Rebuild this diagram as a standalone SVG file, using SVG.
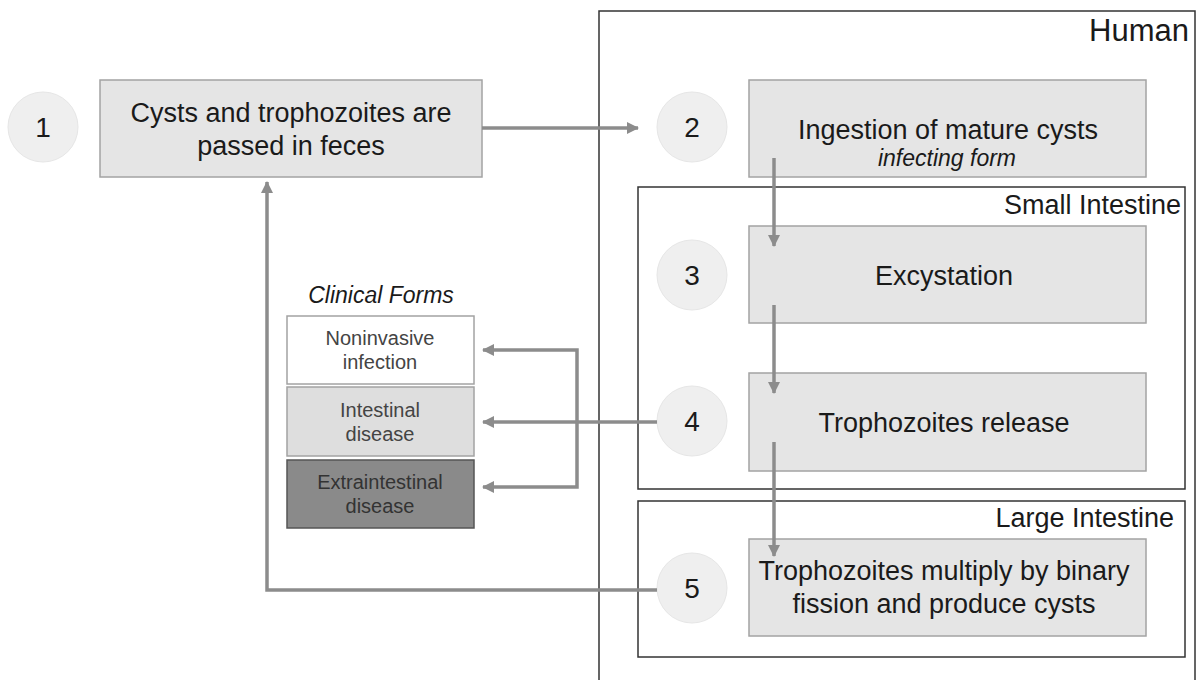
<svg xmlns="http://www.w3.org/2000/svg" width="1197" height="680" viewBox="0 0 1197 680">
<defs>
<marker id="ah" markerUnits="userSpaceOnUse" markerWidth="12" markerHeight="12" viewBox="0 0 12 12" refX="11" refY="6" orient="auto">
<path d="M0,0 L12,6 L0,12 Z" fill="#8c8c8c"/>
</marker>
</defs>
<style>
.t{font-family:"Liberation Sans",Arial,sans-serif;fill:#1a1a1a;text-anchor:middle}
.node{fill:#e5e5e5;stroke:#a3a3a3;stroke-width:1.5}
.circ{fill:#efefef;stroke:#e6e6e6;stroke-width:1}
.num{font-size:28px}
.lbl{font-size:27px}
.reg{fill:none;stroke:#333;stroke-width:1.5}
.cf{font-size:20px;fill:#444}
.con{fill:none;stroke:#8c8c8c;stroke-width:3.5}
.arr{marker-end:url(#ah)}
</style>
<rect width="1197" height="680" fill="#fff"/>
<g id="region-human">
<rect class="reg" x="599" y="11" width="596" height="680"/>
<text class="t" x="1189" y="41" style="font-size:31px;text-anchor:end">Human</text>
</g>
<g id="region-small">
<rect class="reg" x="638" y="187" width="547" height="302"/>
<text class="t lbl" x="1181" y="214" style="text-anchor:end">Small Intestine</text>
</g>
<g id="region-large">
<rect class="reg" x="638" y="501" width="547" height="156"/>
<text class="t lbl" x="1174" y="527" style="text-anchor:end">Large Intestine</text>
</g>
<g id="step1">
<ellipse class="circ" cx="43" cy="127" rx="35" ry="35"/>
<text class="t num" x="43" y="137">1</text>
<rect class="node" x="100" y="80" width="382" height="97"/>
<text class="t lbl" x="291" y="122">Cysts and trophozoites are</text>
<text class="t lbl" x="291" y="155">passed in feces</text>
</g>
<g id="step2">
<ellipse class="circ" cx="692" cy="127" rx="35" ry="35"/>
<text class="t num" x="692" y="137">2</text>
<rect class="node" x="749" y="80" width="397" height="97"/>
<text class="t lbl" x="948" y="139">Ingestion of mature cysts</text>
<text class="t" x="947" y="166" style="font-size:23px;font-style:italic">infecting form</text>
</g>
<g id="step3">
<ellipse class="circ" cx="692" cy="275" rx="35" ry="35"/>
<text class="t num" x="692" y="285">3</text>
<rect class="node" x="749" y="226" width="397" height="97"/>
<text class="t lbl" x="944" y="285">Excystation</text>
</g>
<g id="step4">
<ellipse class="circ" cx="692" cy="421" rx="35" ry="35"/>
<text class="t num" x="692" y="431">4</text>
<rect class="node" x="749" y="373" width="397" height="98"/>
<text class="t lbl" x="944" y="432">Trophozoites release</text>
</g>
<g id="step5">
<ellipse class="circ" cx="692" cy="588" rx="35" ry="35"/>
<text class="t num" x="692" y="598">5</text>
<rect class="node" x="749" y="539" width="397" height="97"/>
<text class="t lbl" x="944" y="580">Trophozoites multiply by binary</text>
<text class="t lbl" x="944" y="613">fission and produce cysts</text>
</g>
<g id="clinical-forms">
<text class="t" x="381" y="303" style="font-size:23px;font-style:italic">Clinical Forms</text>
</g>
<g id="noninvasive">
<rect x="287" y="316" width="187" height="68" fill="#fff" stroke="#a3a3a3" stroke-width="1.5"/>
<text class="t cf" x="380" y="345">Noninvasive</text>
<text class="t cf" x="380" y="369">infection</text>
</g>
<g id="intestinal">
<rect x="287" y="387" width="187" height="69" fill="#dedede" stroke="#a3a3a3" stroke-width="1.5"/>
<text class="t cf" x="380" y="417">Intestinal</text>
<text class="t cf" x="380" y="441">disease</text>
</g>
<g id="extraintestinal">
<rect x="287" y="460" width="187" height="68" fill="#8a8a8a" stroke="#555" stroke-width="1.5"/>
<text class="t cf" x="380" y="489" style="fill:#333">Extraintestinal</text>
<text class="t cf" x="380" y="513" style="fill:#333">disease</text>
</g>
<g id="connectors">
<line class="con arr" x1="482" y1="128" x2="638" y2="128"/>
<line class="con arr" x1="774" y1="158" x2="774" y2="246"/>
<line class="con arr" x1="774" y1="305" x2="774" y2="393"/>
<line class="con arr" x1="774" y1="442" x2="774" y2="556"/>
<line class="con arr" x1="657" y1="422" x2="483" y2="422"/>
<polyline class="con arr" points="577,422 577,350 483,350"/>
<polyline class="con arr" points="577,422 577,487 483,487"/>
<polyline class="con arr" points="657,590 267,590 267,182"/>
</g>
</svg>
